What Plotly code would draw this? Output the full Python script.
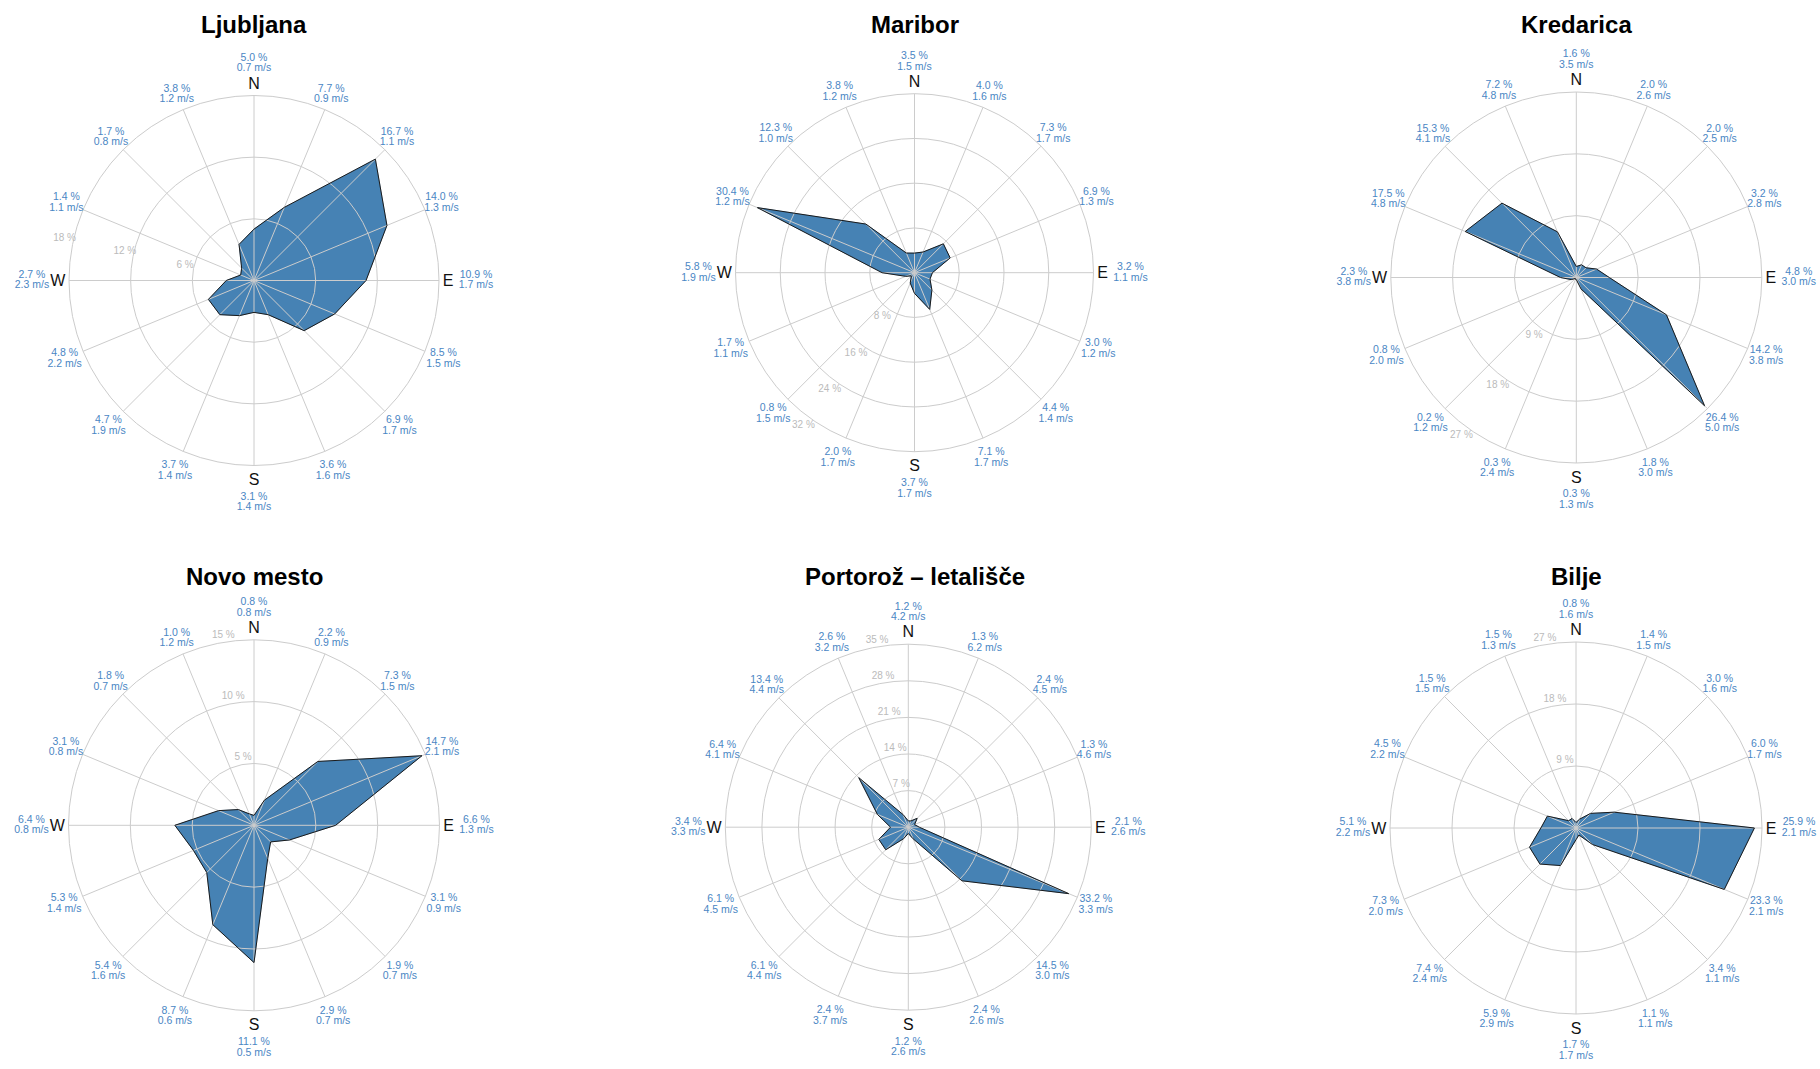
import math
import plotly.graph_objects as go

W, H = 1820, 1069

# ---------------- data ----------------
directions = ["N", "NNE", "NE", "ENE", "E", "ESE", "SE", "SSE",
              "S", "SSW", "SW", "WSW", "W", "WNW", "NW", "NNW"]
bearings = [0, 22.5, 45, 67.5, 90, 112.5, 135, 157.5,
            180, 202.5, 225, 247.5, 270, 292.5, 315, 337.5]
compass_text = ["N", "", "", "", "E", "", "", "", "S", "", "", "", "W", "", "", ""]

stations = ["Ljubljana", "Maribor", "Kredarica",
            "Novo mesto", "Portorož – letališče", "Bilje"]

ljubljana_pct = [5.0, 7.7, 16.7, 14.0, 10.9, 8.5, 6.9, 3.6, 3.1, 3.7, 4.7, 4.8, 2.7, 1.4, 1.7, 3.8]
ljubljana_spd = [0.7, 0.9, 1.1, 1.3, 1.7, 1.5, 1.7, 1.6, 1.4, 1.4, 1.9, 2.2, 2.3, 1.1, 0.8, 1.2]
maribor_pct = [3.5, 4.0, 7.3, 6.9, 3.2, 3.0, 4.4, 7.1, 3.7, 2.0, 0.8, 1.7, 5.8, 30.4, 12.3, 3.8]
maribor_spd = [1.5, 1.6, 1.7, 1.3, 1.1, 1.2, 1.4, 1.7, 1.7, 1.7, 1.5, 1.1, 1.9, 1.2, 1.0, 1.2]
kredarica_pct = [1.6, 2.0, 2.0, 3.2, 4.8, 14.2, 26.4, 1.8, 0.3, 0.3, 0.2, 0.8, 2.3, 17.5, 15.3, 7.2]
kredarica_spd = [3.5, 2.6, 2.5, 2.8, 3.0, 3.8, 5.0, 3.0, 1.3, 2.4, 1.2, 2.0, 3.8, 4.8, 4.1, 4.8]
novo_mesto_pct = [0.8, 2.2, 7.3, 14.7, 6.6, 3.1, 1.9, 2.9, 11.1, 8.7, 5.4, 5.3, 6.4, 3.1, 1.8, 1.0]
novo_mesto_spd = [0.8, 0.9, 1.5, 2.1, 1.3, 0.9, 0.7, 0.7, 0.5, 0.6, 1.6, 1.4, 0.8, 0.8, 0.7, 1.2]
portoroz_pct = [1.2, 1.3, 2.4, 1.3, 2.1, 33.2, 14.5, 2.4, 1.2, 2.4, 6.1, 6.1, 3.4, 6.4, 13.4, 2.6]
portoroz_spd = [4.2, 6.2, 4.5, 4.6, 2.6, 3.3, 3.0, 2.6, 2.6, 3.7, 4.4, 4.5, 3.3, 4.1, 4.4, 3.2]
bilje_pct = [0.8, 1.4, 3.0, 6.0, 25.9, 23.3, 3.4, 1.1, 1.7, 5.9, 7.4, 7.3, 5.1, 4.5, 1.5, 1.5]
bilje_spd = [1.6, 1.5, 1.6, 1.7, 2.1, 2.1, 1.1, 1.1, 1.7, 2.9, 2.4, 2.0, 2.2, 2.2, 1.5, 1.3]

pct_series = [ljubljana_pct, maribor_pct, kredarica_pct, novo_mesto_pct, portoroz_pct, bilje_pct]
spd_series = [ljubljana_spd, maribor_spd, kredarica_spd, novo_mesto_spd, portoroz_spd, bilje_spd]

ljubljana_ticks = [6, 12, 18]
maribor_ticks = [8, 16, 24, 32]
kredarica_ticks = [9, 18, 27]
novo_mesto_ticks = [5, 10, 15]
portoroz_ticks = [7, 14, 21, 28, 35]
bilje_ticks = [9, 18, 27]
tick_series = [ljubljana_ticks, maribor_ticks, kredarica_ticks,
               novo_mesto_ticks, portoroz_ticks, bilje_ticks]

# ---------------- styles / layout geometry (pixels) ----------------
FONT = "Liberation Sans, Arial, Helvetica, sans-serif"
FILL = "#4682b4"
LABEL_C = "#4a86c4"
GRID_C = "#cccccc"
TICK_C = "#bbbbbb"

centers = [(254, 280.5), (914.5, 272.7), (1576.3, 277.5),
           (254, 825.3), (908.3, 827.2), (1576, 828)]
radii = [185, 179, 185.5, 185.5, 183, 186]
title_pos = [(254, 24), (915, 24), (1576, 24), (254, 576), (915, 576), (1576, 576)]
rad_label_angle = [282.5, 216, 216, 350.8, 350.5, 350.7]
rad_label_off = [9, 10, 10, 6.5, 6.2, 6.5]
LABEL_PAD = 40  # extra pixels of the (invisible) label subplot beyond the rose


def label_offset(b):
    if b == 0:
        return 32
    if b == 180:
        return 37
    if b in (90, 270):
        return 37
    return 19 - 2.5 * math.cos(math.radians(b))


def domain(cx, cy, r):
    return dict(x=[(cx - r) / W, (cx + r) / W], y=[1 - (cy + r) / H, 1 - (cy - r) / H])


def pid(n):
    return "polar" if n == 1 else f"polar{n}"


fig = go.Figure()
layout_polars = {}
annotations = []
hidden_radial = dict(showgrid=False, showline=False, showticklabels=False, ticks="")
hidden_angular = dict(rotation=90, direction="clockwise", showgrid=False,
                      showline=False, showticklabels=False, ticks="")

for i, name in enumerate(stations):
    cx, cy = centers[i]
    R = radii[i]
    ticks = tick_series[i]
    rmax = ticks[-1]
    pct = pct_series[i]
    spd = spd_series[i]
    pid_data, pid_grid, pid_lab = pid(i + 1), pid(i + 7), pid(i + 13)
    rmax_lab = rmax * (R + LABEL_PAD) / R

    # filled wind rose polygon (fill only; grid is drawn above it)
    fig.add_trace(go.Scatterpolar(
        r=pct + [pct[0]], theta=bearings + [bearings[0]],
        mode="lines", fill="toself", fillcolor=FILL,
        line=dict(color=FILL, width=0.5),
        subplot=pid_data, hoverinfo="skip", showlegend=False))

    # outline of the polygon, on the grid subplot
    fig.add_trace(go.Scatterpolar(
        r=pct + [pct[0]], theta=bearings + [bearings[0]],
        mode="lines", line=dict(color="#1a1a1a", width=1),
        subplot=pid_grid, hoverinfo="skip", showlegend=False))

    # data labels (percentage above, speed below), on the wider label subplot
    lab_r = [rmax * (R + label_offset(b)) / R for b in bearings]
    fig.add_trace(go.Scatterpolar(
        r=lab_r, theta=bearings, mode="text",
        text=[f"{p:.1f} %" for p in pct], textposition="top center",
        textfont=dict(size=10.5, color=LABEL_C, family=FONT),
        cliponaxis=False, subplot=pid_lab, hoverinfo="skip", showlegend=False))
    fig.add_trace(go.Scatterpolar(
        r=lab_r, theta=bearings, mode="text",
        text=[f"{s:.1f} m/s" for s in spd], textposition="bottom center",
        textfont=dict(size=10.5, color=LABEL_C, family=FONT),
        cliponaxis=False, subplot=pid_lab, hoverinfo="skip", showlegend=False))

    # radial tick labels
    off = rad_label_off[i]
    fig.add_trace(go.Scatterpolar(
        r=[t + off / R * rmax for t in ticks], theta=[rad_label_angle[i]] * len(ticks),
        mode="text", text=[f"{t} %" for t in ticks], textposition="middle center",
        textfont=dict(size=10, color=TICK_C, family=FONT),
        cliponaxis=False, subplot=pid_lab, hoverinfo="skip", showlegend=False))

    layout_polars[pid_data] = dict(
        domain=domain(cx, cy, R), bgcolor="white",
        radialaxis=dict(range=[0, rmax], **hidden_radial),
        angularaxis=dict(hidden_angular))
    layout_polars[pid_grid] = dict(
        domain=domain(cx, cy, R), bgcolor="rgba(0,0,0,0)",
        radialaxis=dict(range=[0, rmax], tickmode="array", tickvals=ticks,
                        showticklabels=False, ticks="", showline=False,
                        gridcolor=GRID_C, gridwidth=1),
        angularaxis=dict(rotation=90, direction="clockwise", tickmode="array",
                         tickvals=bearings, ticktext=compass_text, ticks="",
                         showline=True, linecolor=GRID_C, linewidth=1,
                         gridcolor=GRID_C, gridwidth=1,
                         tickfont=dict(size=16, color="#111111", family=FONT)))
    layout_polars[pid_lab] = dict(
        domain=domain(cx, cy, R + LABEL_PAD), bgcolor="rgba(0,0,0,0)",
        radialaxis=dict(range=[0, rmax_lab], **hidden_radial),
        angularaxis=dict(hidden_angular))

    tx, ty = title_pos[i]
    annotations.append(dict(
        text=name, x=tx / W, y=1 - ty / H, xref="paper", yref="paper",
        xanchor="center", yanchor="middle", showarrow=False,
        font=dict(size=24, color="#000000", family=FONT, weight="bold")))

fig.update_layout(
    width=W, height=H, margin=dict(l=0, r=0, t=0, b=0),
    paper_bgcolor="white", plot_bgcolor="white", showlegend=False,
    font=dict(family=FONT), annotations=annotations, **layout_polars)

fig.write_html("out.html", config={"displayModeBar": False},
               post_script="document.body.style.margin='0';document.body.style.overflow='hidden';")
